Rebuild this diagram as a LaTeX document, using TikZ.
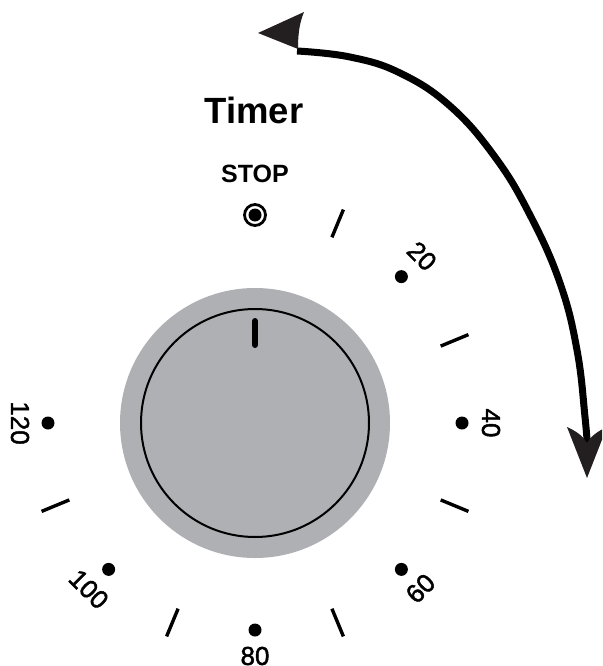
\documentclass[tikz,border=0pt]{standalone}
\usepackage{fontspec}
\setmainfont{Liberation Sans}
\newfontfamily\numfont{Liberation Sans}[FakeBold=1.6]
\usetikzlibrary{calc}
\definecolor{knobgray}{RGB}{174,176,179}
\definecolor{inkblack}{RGB}{35,31,32}
\begin{document}
\begin{tikzpicture}[x=1pt,y=-1pt,
  dotmark/.style={fill=black, circle, inner sep=0pt, minimum size=13pt},
  tickmark/.style={line width=3.4pt},
  numlabel/.style={inner sep=0pt, font=\numfont\fontsize{26}{26}\selectfont},
  headfill/.style={fill=inkblack}
]
\useasboundingbox (0,0) rectangle (602,666);
\clip (0,0) rectangle (602,666);
\coordinate (c) at (255,423);
% knob
\fill[knobgray] (c) circle[radius=135];
\draw[line width=2pt] (c) circle[radius=114];
\coordinate (p1) at (255,321);
\coordinate (p2) at (255,345);
\draw[line width=6pt, line cap=round] (p1) -- (p2);
% title
\node[anchor=base, inner sep=0pt, font=\bfseries\fontsize{36.5}{40}\selectfont] (title) at (254,124) {Timer};
\node[anchor=base, inner sep=0pt, font=\bfseries\fontsize{25}{25}\selectfont] (stop) at (255,182) {STOP};
% stop marker
\draw[line width=2.8pt] (255,215) circle[radius=10.5];
\node[dotmark] (d0) at (255,215) {};
% dots
\node[dotmark] (d20) at ($(c)+(-45:207)$) {};
\node[dotmark] (d40) at ($(c)+(0:207)$) {};
\node[dotmark] (d60) at ($(c)+(45:207)$) {};
\node[dotmark] (d80) at ($(c)+(90:207)$) {};
\node[dotmark] (d100) at ($(c)+(135:207)$) {};
\node[dotmark] (d120) at ($(c)+(180:207)$) {};
% labels
\node[numlabel, rotate=-45] (l20) at ($(c)+(-45:236)$) {20};
\node[numlabel, rotate=-90] (l40) at ($(c)+(0:236)$) {40};
\node[numlabel, rotate=45] (l60) at ($(c)+(45:234)$) {60};
\node[numlabel] (l80) at ($(c)+(90:233)$) {80};
\node[numlabel, rotate=-45] (l100) at ($(c)+(135:235)$) {100};
\node[numlabel, rotate=-90] (l120) at ($(c)+(180:235)$) {120};
% ticks
\foreach \t in {-67.5,-22.5,22.5,67.5,112.5,157.5}
  \draw[tickmark] ($(c)+(\t:201)$) -- ($(c)+(\t:231)$);
% big arc
\draw[line width=7pt] plot[smooth, tension=0.7] coordinates {(297,51) (350,57) (400,73) (450,106) (495,157) (530,215) (560,283) (577,350) (585,417) (588,455)};
% arrowheads
\fill[headfill] (258,33) -- (304,12) .. controls (299,24) and (298,36) .. (298,49) -- cycle;
\fill[headfill] (567,427) -- (587,478) -- (607,427) .. controls (598,431) and (591,436) .. (587,443) .. controls (583,436) and (576,431) .. (567,427) -- cycle;
\end{tikzpicture}
\end{document}
